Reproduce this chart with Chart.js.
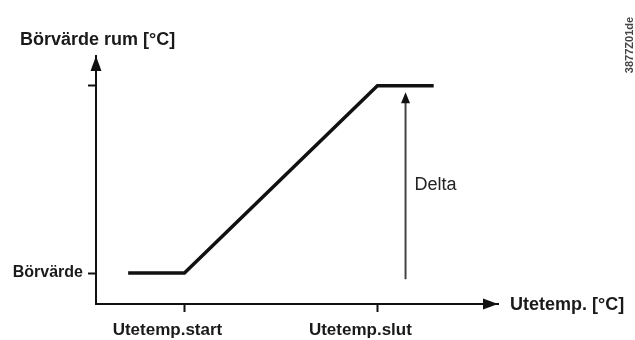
<!DOCTYPE html>
<html>
<head>
<meta charset="utf-8">
<script src="https://cdn.jsdelivr.net/npm/chart.js@4.4.1/dist/chart.umd.min.js"></script>
<style>
body { margin: 0; background: #fff; }
</style>
</head>
<body>
<canvas id="myChart" width="635" height="340"></canvas>
<script>
// tick positions (arbitrary units 0..100) and their labels
var xTicks = [22, 70];
var xLabels = ["Utetemp.start", "Utetemp.slut"];
var yTicks = [12.5, 88];
var yLabels = ["Börvärde", ""];

// heating curve
var curveX = [8, 22, 70, 84];
var curveY = [12.5, 12.5, 88, 88];

// delta arrow
var deltaX = [77, 77];
var deltaY = [10, 83];

var FONT = "'Liberation Sans', Arial, sans-serif";

function toPoints(xs, ys) {
	var pts = [];
	for (var i = 0; i < xs.length; i++) {
		pts.push({ x: xs[i], y: ys[i] });
	}
	return pts;
}

function arrowHead(ctx, x, y, dir, len, half) {
	ctx.beginPath();
	if (dir == "up") {
		ctx.moveTo(x, y);
		ctx.lineTo(x - half, y + len);
		ctx.lineTo(x + half, y + len);
	} else {
		ctx.moveTo(x, y);
		ctx.lineTo(x - len, y - half);
		ctx.lineTo(x - len, y + half);
	}
	ctx.closePath();
	ctx.fill();
}

var extras = {
	id: "extras",
	afterDatasetsDraw: function(chart) {
		var ctx = chart.ctx;
		var area = chart.chartArea;
		ctx.save();
		ctx.fillStyle = "#111";
		// axis arrows
		arrowHead(ctx, area.left, area.top, "up", 15, 5.5);
		arrowHead(ctx, area.right, area.bottom, "right", 15, 5.5);
		// delta arrow head
		var meta = chart.getDatasetMeta(1);
		var p = meta.data[meta.data.length - 1];
		arrowHead(ctx, p.x, p.y - 6, "up", 11, 4.5);

		// axis titles
		ctx.fillStyle = "#1a1a1a";
		ctx.textBaseline = "middle";
		ctx.textAlign = "left";
		ctx.font = "bold 18px " + FONT;
		ctx.fillText("Börvärde rum [°C]", 20, 40);
		ctx.fillText("Utetemp. [°C]", area.right + 12, area.bottom + 1);

		// delta label
		ctx.font = "18px " + FONT;
		ctx.fillStyle = "#222";
		var sx = chart.scales.x, sy = chart.scales.y;
		ctx.fillText("Delta", sx.getPixelForValue(deltaX[0]) + 9, sy.getPixelForValue(48));

		// drawing code at right edge
		ctx.translate(630, 45);
		ctx.rotate(-Math.PI / 2);
		ctx.textAlign = "center";
		ctx.font = "bold 11px " + FONT;
		ctx.fillStyle = "#444";
		ctx.fillText("3877Z01de", 0, 0);
		ctx.restore();
	}
};

var ctx = document.getElementById("myChart");

var data = {
	datasets : [
		{
			data : toPoints(curveX, curveY),
			borderColor : "#111",
			borderWidth : 3.5,
			pointRadius : 0,
			fill : false,
			tension : 0,
			borderCapStyle : "butt",
			borderJoinStyle : "miter"
		},
		{
			data : toPoints(deltaX, deltaY),
			borderColor : "#444",
			borderWidth : 2,
			pointRadius : 0,
			fill : false
		}
	]
};

var myChart = new Chart(ctx, {
	type : "line",
	data : data,
	plugins : [extras],
	options : {
		responsive : false,
		animation : false,
		layout : { padding : { left : 10, right : 137, top : 56, bottom : 0 } },
		plugins : {
			legend : { display : false },
			tooltip : { enabled : false },
			title : { display : false }
		},
		scales : {
			x : {
				type : "linear",
				min : 0,
				max : 100,
				afterBuildTicks : function(scale) {
					scale.ticks = xTicks.map(function(v) { return { value : v }; });
				},
				afterFit : function(scale) { scale.height = 36; },
				ticks : {
					autoSkip : false,
					maxRotation : 0,
					labelOffset : -17,
					padding : 8,
					color : "#1a1a1a",
					font : { family : FONT, size : 17, weight : "bold" },
					callback : function(v, i) { return xLabels[i]; }
				},
				grid : {
					drawOnChartArea : false,
					tickLength : 8,
					tickColor : "#111",
					tickWidth : 2
				},
				border : { display : true, color : "#111", width : 2 }
			},
			y : {
				type : "linear",
				min : 0,
				max : 100,
				afterBuildTicks : function(scale) {
					scale.ticks = yTicks.map(function(v) { return { value : v }; });
				},
				afterFit : function(scale) { scale.width = 86; },
				ticks : {
					autoSkip : false,
					padding : 5,
					color : "#1a1a1a",
					font : { family : FONT, size : 16, weight : "bold" },
					callback : function(v, i) { return yLabels[i]; }
				},
				grid : {
					drawOnChartArea : false,
					tickLength : 8,
					tickColor : "#111",
					tickWidth : 2
				},
				border : { display : true, color : "#111", width : 2 }
			}
		}
	}
});
</script>
</body>
</html>
